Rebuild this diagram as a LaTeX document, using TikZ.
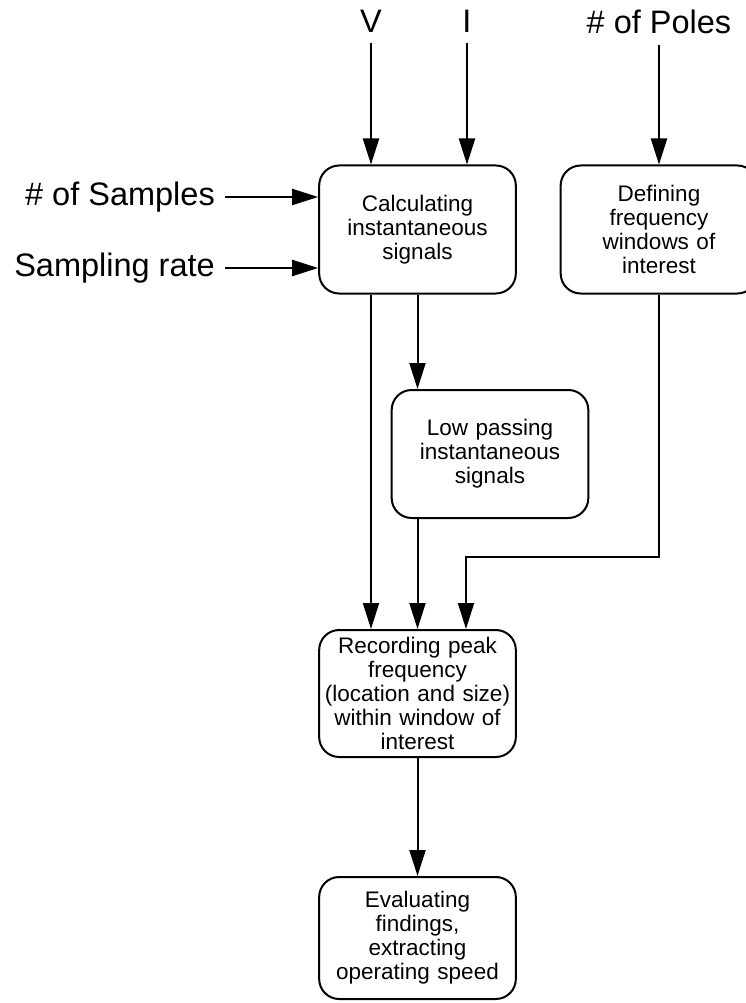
\documentclass[tikz,border=0pt]{standalone}
\usepackage{fontspec}
\setmainfont{Liberation Sans}
\usetikzlibrary{shapes,arrows.meta,positioning}

\begin{document}
\begin{tikzpicture}[x=1pt, y=1pt, auto,
    >={Triangle[length=26pt, width=16pt]},
    box/.style={rectangle, draw, line width=2pt, rounded corners=20pt, minimum width=192pt, minimum height=128pt, text width=190pt, align=center, font=\fontsize{22.5}{24}\selectfont},
    inlabel/.style={font=\fontsize{32.5}{36}\selectfont, inner sep=10pt},
    flow/.style={->, line width=2pt}]
    \useasboundingbox (0,0) rectangle (746,-1003);

    \node (calc) [box] at (417.5,-229.5) {Calculating\\instantaneous\\signals};
    \node (define) [box, right of=calc, node distance=241.5pt] {Defining\\frequency\\windows of\\interest};
    \node (lowpass) [box, below of=calc, node distance=224.5pt, xshift=72.5pt, minimum width=194pt] {Low passing\\instantaneous\\signals};
    \node (record) [box, below of=calc, node distance=464pt, minimum height=127pt] {Recording peak\\frequency\\(location and size)\\within window of\\interest};
    \node (evaluate) [box, below of=record, node distance=244.5pt, minimum height=122pt] {Evaluating\\findings,\\extracting\\operating speed};

    % inputs
    \node (volt) [inlabel, anchor=base] at (371,-33) {V};
    \node (curr) [inlabel, anchor=base] at (467,-33) {I};
    \node (poles) [inlabel, anchor=base] at (659,-34) {\# of Poles};
    \node (samples) [inlabel, anchor=east] at (225,-197) {\# of Samples};
    \node (rate) [inlabel, anchor=east] at (225,-268) {Sampling rate};

    \draw[flow] (volt.south) -- (volt.south |- calc.north);
    \draw[flow] (curr.south) -- (curr.south |- calc.north);
    \draw[flow] (poles.south) -- (poles.south |- define.north);
    \draw[flow] (samples.east) -- (samples.east -| calc.west);
    \draw[flow] (rate.east) -- (rate.east -| calc.west);

    % processing chain
    \draw[flow] ([xshift=-46.5pt]calc.south) -- ([xshift=-46.5pt]record.north);
    \draw[flow] (calc.south) -- (calc.south |- lowpass.north);
    \draw[flow] (lowpass.south -| record.north) -- (record.north);
    \draw[flow] (define.south) -- ++(0,-262.5) -| ([xshift=48.5pt]record.north);
    \draw[flow] (record) -- (evaluate);
\end{tikzpicture}
\end{document}
